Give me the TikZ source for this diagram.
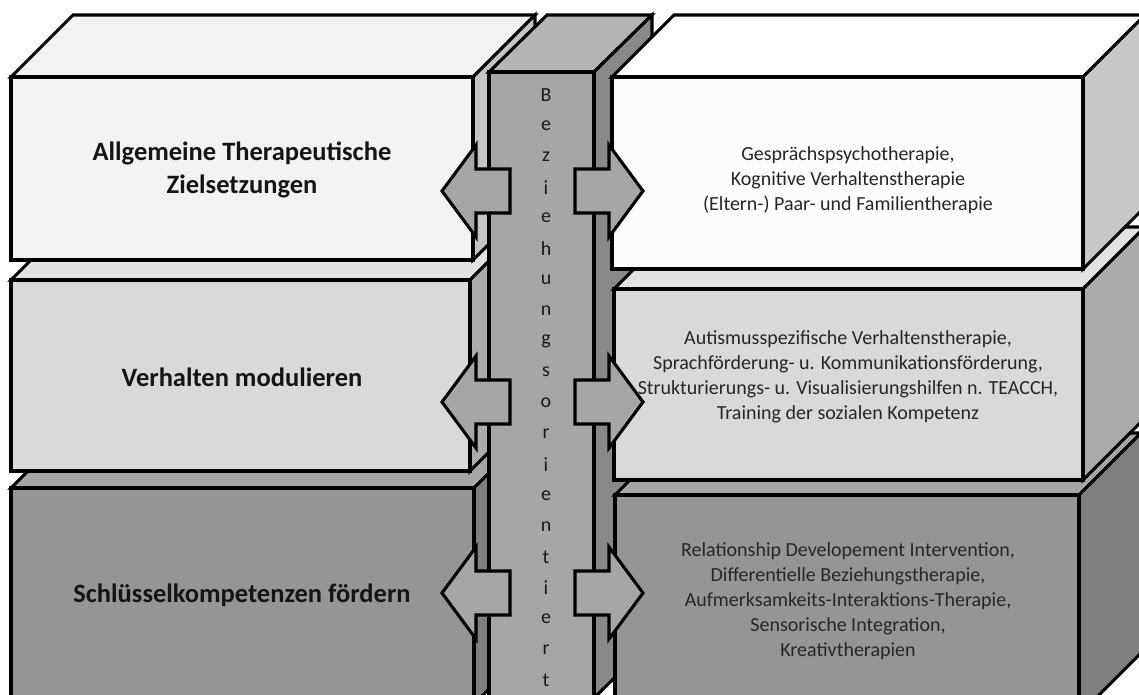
\documentclass[tikz,border=0pt]{standalone}
\usepackage{fontspec}
\setmainfont{Carlito}
\usetikzlibrary{positioning}

\definecolor{ltfront}{HTML}{F2F2F2}
\definecolor{lttop}{HTML}{F2F2F2}
\definecolor{ltside}{HTML}{C4C4C4}
\definecolor{midfront}{HTML}{D9D9D9}
\definecolor{midtop}{HTML}{E2E2E2}
\definecolor{midside}{HTML}{ABABAB}
\definecolor{lowfront}{HTML}{959595}
\definecolor{lowtop}{HTML}{A6A6A6}
\definecolor{lowside}{HTML}{7F7F7F}
\definecolor{rtfront}{HTML}{FCFCFC}
\definecolor{rttop}{HTML}{FFFFFF}
\definecolor{rtside}{HTML}{C8C8C8}
\definecolor{colfront}{HTML}{A6A6A6}
\definecolor{coltop}{HTML}{B5B5B5}
\definecolor{colside}{HTML}{898989}

% cuboid: x1, y1, x2, y2 (front face), front, top, side colour
\newcommand{\quader}[7]{%
  \filldraw[boxline, fill=#6] (#1,#2) -- ++(62,-62) -- (#3+62,#2-62) -- (#3,#2) -- cycle;
  \filldraw[boxline, fill=#7] (#3,#2) -- (#3+62,#2-62) -- (#3+62,#4-62) -- (#3,#4) -- cycle;
  \filldraw[boxline, fill=#5] (#1,#2) rectangle (#3,#4);
}

\tikzset{
  boxline/.style={draw=black, line width=3.1pt, line join=miter},
  goal/.style={font=\fontsize{26.5}{33}\selectfont\bfseries, align=center, text=black!92},
  method/.style={font=\fontsize{20}{25}\selectfont, align=center, text=black!85},
  colletter/.style={font=\fontsize{20}{20}\selectfont, inner sep=0pt, text=black!90},
  arrowshape/.style={draw=black, line width=3.1pt, fill=colfront, line join=miter}
}

\begin{document}
\begin{tikzpicture}[x=1pt, y=-1pt]
\useasboundingbox (0,0) rectangle (1139,695);
\clip (0,0) rectangle (1139,695);

% left stack
\quader{11}{488}{474}{704}{lowfront}{lowtop}{lowside}
\quader{11}{280}{470}{471}{midfront}{midtop}{midside}
\quader{11}{77}{473}{260}{ltfront}{lttop}{ltside}

% column
\filldraw[boxline, fill=coltop] (489,72) -- ++(58,-57) -- (652,15) -- (594,72) -- cycle;
\filldraw[boxline, fill=colside] (594,72) -- (652,15) -- (652,641) -- (594,698) -- cycle;
\filldraw[boxline, fill=colfront] (489,72) rectangle (594,698);

% right stack
\quader{615}{495}{1079}{715}{lowfront}{lowtop}{lowside}
\quader{614}{289}{1083}{480}{midfront}{midtop}{midside}
\quader{612}{77}{1083}{269}{rtfront}{rttop}{rtside}

% arrows
\foreach \c in {191,402,593} {
  \filldraw[arrowshape] (442,\c) -- (476,\c-46) -- (476,\c-22) -- (510,\c-22)
    -- (510,\c+22) -- (476,\c+22) -- (476,\c+46) -- cycle;
  \filldraw[arrowshape] (643,\c) -- (609,\c-46) -- (609,\c-22) -- (575,\c-22)
    -- (575,\c+22) -- (609,\c+22) -- (609,\c+46) -- cycle;
}

\foreach \ch [count=\i from 0] in {B,e,z,i,e,h,u,n,g,s,o,r,i,e,n,t,i,e,r,t}
  \node[colletter] (b\i) at (546,95+30.8*\i) {\ch};

\node[goal] (ziel) at (242,170) {Allgemeine Therapeutische\\Zielsetzungen};
\node[goal] (verhalten) at (242,377) {Verhalten modulieren};
\node[goal] (schluessel) at (242,595) {Schlüsselkompetenzen fördern};

\node[method] (gespraech) at (848,180) {Gesprächspsychotherapie,\\Kognitive Verhaltenstherapie\\(Eltern-) Paar- und Familientherapie};
\node[method] (autismus) at (848,377) {Autismusspezifische Verhaltenstherapie,\\Sprachförderung- u. Kommunikationsförderung,\\Strukturierungs- u. Visualisierungshilfen n. TEACCH,\\Training der sozialen Kompetenz};
\node[method] (rdi) at (848,601) {Relationship Developement Intervention,\\Differentielle Beziehungstherapie,\\Aufmerksamkeits-Interaktions-Therapie,\\Sensorische Integration,\\Kreativtherapien};
\end{tikzpicture}
\end{document}
